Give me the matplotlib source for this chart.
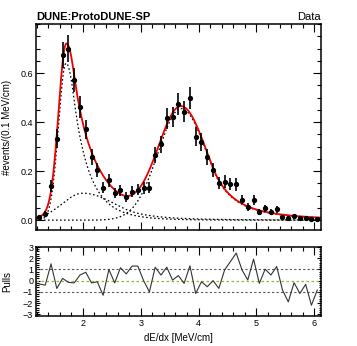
import numpy as np
import matplotlib
matplotlib.use('Agg')
import matplotlib.pyplot as plt
from matplotlib.ticker import MultipleLocator

plt.rcParams['font.family'] = ['Liberation Sans', 'DejaVu Sans']

# dE/dx histogram, 0.1 MeV/cm bins
bin_centers = np.round(np.arange(1.25, 6.1, 0.1), 2)
counts = [0.013, 0.027, 0.139, 0.333, 0.673, 0.700, 0.571, 0.462, 0.370, 0.258,
          0.205, 0.133, 0.163, 0.111, 0.122, 0.095, 0.116, 0.125, 0.132, 0.133,
          0.266, 0.309, 0.415, 0.420, 0.472, 0.442, 0.499, 0.340, 0.320, 0.256,
          0.204, 0.152, 0.157, 0.147, 0.146, 0.084, 0.054, 0.082, 0.034, 0.048,
          0.034, 0.044, 0.014, 0.007, 0.016, 0.010, 0.007, 0.003, 0.004]
errors = [0.008, 0.011, 0.024, 0.037, 0.053, 0.054, 0.049, 0.044, 0.040, 0.033,
          0.029, 0.024, 0.026, 0.022, 0.023, 0.020, 0.022, 0.023, 0.024, 0.024,
          0.034, 0.036, 0.042, 0.042, 0.045, 0.043, 0.046, 0.038, 0.037, 0.033,
          0.029, 0.025, 0.026, 0.025, 0.025, 0.019, 0.015, 0.019, 0.012, 0.014,
          0.012, 0.014, 0.008, 0.005, 0.008, 0.0065, 0.005, 0.0036, 0.004]
pulls = [-0.3, -0.4, 1.5, -0.7, 0.2, -0.15, -0.2, 0.5, 0.75, -0.2,
         -0.1, -1.3, 1.0, -0.2, 1.15, 0.6, 1.3, 1.3, 0.0, -1.0,
         1.2, 0.5, 1.2, 0.05, 0.45, -0.24, 1.32, -1.14, -0.09, -0.54,
         0.0, -0.69, 0.96, 1.7, 2.46, 0.96, 0.06, 1.92, -0.24, 1.02,
         0.51, 1.26, -0.84, -1.89, -0.18, -1.14, -0.33, -2.19, -0.84]
pull_ticks = [-3, -2, -1, 0, 1, 2, 3]
pull_labels = ['\u22123', '\u22122', '\u22121', '0', '1', '2', '3']

# fit components: amplitude, peak, left sigma, right sigma, tail start (sigma), tail power
peak1 = [0.64, 1.71, 0.13, 0.19, 0.7, 10]
broad = [0.11, 2.00, 0.36, 0.55, 1.3, 4]
peak2 = [0.455, 3.70, 0.40, 0.44, 1.25, 3]


def shape(x, amp, mu, sl, sr, k, n):
    d = x - mu
    y = np.where(d < 0, np.exp(-0.5 * (d / sl) ** 2), np.exp(-0.5 * (d / sr) ** 2))
    base = np.clip(1 + k * (d - k * sr) / (n * sr), 1e-6, None)
    tail = np.exp(-0.5 * k ** 2) * base ** (-n)
    y = np.where(d > k * sr, tail, y)
    return amp * y


x_lo, x_hi = 1.19, 6.115
xs = np.linspace(x_lo, x_hi, 600)
c1 = shape(xs, *peak1)
c2 = shape(xs, *broad)
c3 = shape(xs, *peak2)

fig = plt.figure(figsize=(3.57, 3.46), dpi=100)
ax = fig.add_axes([0.1008, 0.3353, 0.7983, 0.5954])
axp = fig.add_axes([0.1008, 0.0867, 0.7983, 0.1994])

dots = (0, (1.3, 1.9))
for c in (c1, c2, c3):
    ax.plot(xs, c, color='black', lw=0.9, ls=dots)
ax.plot(xs, c1 + c2 + c3, color='#ee0000', lw=1.3)
ax.errorbar(bin_centers, counts, yerr=errors, fmt='o', color='black',
            ms=2.8, elinewidth=1.2, capsize=0)

ax.set_xlim(x_lo, x_hi)
ax.set_ylim(-0.04, 0.8)
ax.set_yticks([0.0, 0.2, 0.4, 0.6])
ax.set_yticklabels(['0.0', '0.2', '0.4', '0.6'])
ax.yaxis.set_minor_locator(MultipleLocator(0.05))
ax.xaxis.set_major_locator(MultipleLocator(1))
ax.xaxis.set_minor_locator(MultipleLocator(0.2))
ax.tick_params(labelbottom=False)
ax.set_ylabel('#events/(0.1 MeV/cm)', fontsize=7)
ax.yaxis.set_label_coords(-0.084, 0.5)
ax.text(0.0, 1.01, 'DUNE:ProtoDUNE-SP', transform=ax.transAxes, fontsize=8,
        fontweight='bold', ha='left', va='bottom')
ax.text(1.0, 1.01, 'Data', transform=ax.transAxes, fontsize=8,
        ha='right', va='bottom')

axp.axhline(1, color='#555555', lw=0.8, ls=(0, (2, 2)))
axp.axhline(-1, color='#555555', lw=0.8, ls=(0, (2, 2)))
axp.axhline(0, color='#88bb33', lw=0.9, ls=(0, (2, 2)))
axp.plot(bin_centers, pulls, color='#333333', lw=0.8)
axp.set_xlim(x_lo, x_hi)
axp.set_ylim(-3.15, 3.0)
axp.set_yticks(pull_ticks)
axp.set_yticklabels(pull_labels)
axp.yaxis.set_minor_locator(MultipleLocator(0.2))
axp.xaxis.set_major_locator(MultipleLocator(1))
axp.xaxis.set_minor_locator(MultipleLocator(0.2))
axp.set_ylabel('Pulls', fontsize=7)
axp.yaxis.set_label_coords(-0.084, 0.5)
axp.set_xlabel('dE/dx [MeV/cm]', fontsize=7, labelpad=4)

for a in (ax, axp):
    a.tick_params(which='both', direction='in', top=True, right=True,
                  labelsize=6.5, width=0.8, pad=2)
    a.tick_params(which='major', length=5.5)
    a.tick_params(which='minor', length=2.8)
    for s in a.spines.values():
        s.set_linewidth(1.1)
axp.tick_params(axis='y', which='major', length=3)
axp.tick_params(axis='y', which='minor', length=1.8)

fig.savefig('out.png', dpi=100)
